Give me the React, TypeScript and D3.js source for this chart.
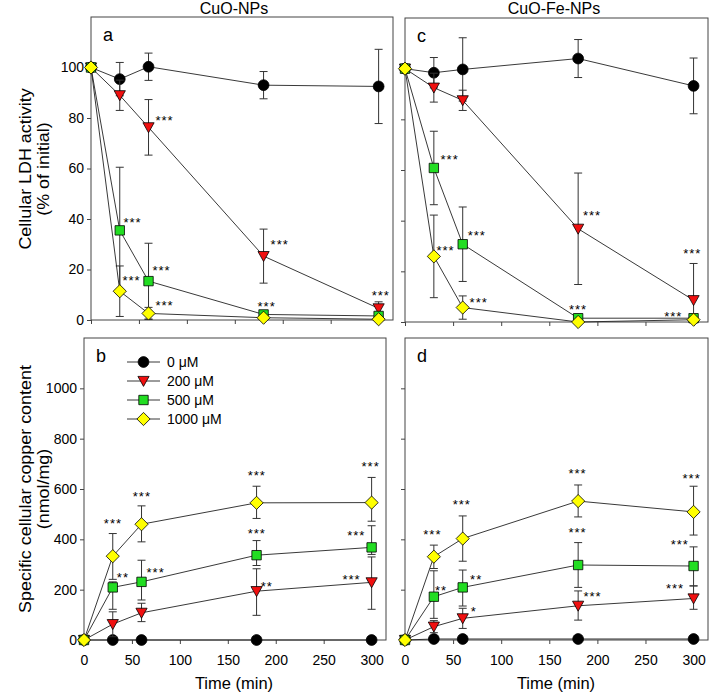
import React, { useEffect, useRef } from "react";
import * as d3 from "d3";

const FONT = "'Liberation Sans', Arial, sans-serif";

const times = [0, 30, 60, 180, 300];
const doseLabels = ["0 μM", "200 μM", "500 μM", "1000 μM"];
const timeTicks = [0, 50, 100, 150, 200, 250, 300];
const ldhTicks = [0, 20, 40, 60, 80, 100];
const copperTicks = [0, 200, 400, 600, 800, 1000];

// a: LDH activity, CuO-NPs (rows = 0, 200, 500, 1000 uM)
const ldhCuOMean = [
  [100, 95.4, 100.3, 93, 92.5],
  [100, 89, 76.3, 25.3, 4.6],
  [100, 35.5, 15.4, 2.2, 1.6],
  [100, 11.4, 2.6, 0.9, 0.3],
];
const ldhCuOSd = [
  [0, 6.6, 5.4, 5.4, 14.7],
  [0, 6, 11, 10.7, 2.6],
  [0, 25, 15, 0, 0],
  [0, 10, 2.4, 0, 0],
];
const ldhCuOStars = [
  { t: 76.7, v: 80.2, label: "***" },
  { t: 196.8, v: 31.2, label: "***" },
  { t: 43.3, v: 39.9, label: "***" },
  { t: 73.6, v: 20.9, label: "***" },
  { t: 42.3, v: 17, label: "***" },
  { t: 76.7, v: 7.1, label: "***" },
  { t: 183.2, v: 6.7, label: "***" },
  { t: 302.2, v: 10.7, label: "***" },
];

// c: LDH activity, CuO-Fe-NPs
const ldhFeMean = [
  [100, 98.4, 99.7, 104, 93.2],
  [100, 92.5, 87.5, 36.8, 8.6],
  [100, 60.8, 30.7, 1.5, 1.5],
  [100, 25.9, 5.7, 0, 0.9],
];
const ldhFeSd = [
  [0, 6, 12.5, 7.5, 11],
  [0, 5.7, 4, 22, 14.5],
  [0, 14.5, 14.7, 0, 0],
  [0, 16.3, 4.6, 0, 0],
];
const ldhFeStars = [
  { t: 46.4, v: 65.2, label: "***" },
  { t: 194.5, v: 43.1, label: "***" },
  { t: 298.7, v: 28.1, label: "***" },
  { t: 74.6, v: 35.2, label: "***" },
  { t: 42.2, v: 29.6, label: "***" },
  { t: 76.6, v: 8.7, label: "***" },
  { t: 179.9, v: 6.3, label: "***" },
  { t: 278.9, v: 3.2, label: "***" },
];

// b: cellular copper, CuO-NPs
const copperCuOMean = [
  [0, 0, 0, 0, 0],
  [0, 63, 108, 194, 229],
  [0, 209, 231, 337, 368],
  [0, 333, 460, 545, 546],
];
const copperCuOUp = [
  [0, 0, 0, 0, 0],
  [0, 49, 38, 89, 101],
  [0, 22, 86, 58, 86],
  [0, 90, 73, 66, 100],
];
const copperCuODown = [
  [0, 0, 0, 0, 0],
  [0, 50, 35, 96, 107],
  [0, 87, 72, 41, 28],
  [0, 92, 70, 62, 74],
];
const copperCuOStars = [
  { t: 30.2, v: 476, label: "***" },
  { t: 60.4, v: 583, label: "***" },
  { t: 180.2, v: 667, label: "***" },
  { t: 299, v: 700, label: "***" },
  { t: 180.2, v: 434, label: "***" },
  { t: 40.6, v: 262, label: "**" },
  { t: 74.7, v: 282, label: "***" },
  { t: 284, v: 428, label: "***" },
  { t: 190.6, v: 225, label: "**" },
  { t: 279, v: 253, label: "***" },
];

// d: cellular copper, CuO-Fe-NPs
const copperFeMean = [
  [0, 4, 4, 4, 4],
  [0, 53, 86, 136, 165],
  [0, 172, 209, 298, 294],
  [0, 331, 403, 552, 509],
];
const copperFeUp = [
  [0, 0, 0, 0, 0],
  [0, 24, 40, 59, 50],
  [0, 103, 69, 89, 76],
  [0, 46, 90, 64, 102],
];
const copperFeDown = [
  [0, 0, 0, 0, 0],
  [0, 24, 40, 57, 43],
  [0, 86, 74, 89, 79],
  [0, 47, 90, 63, 92],
];
const copperFeStars = [
  { t: 28.5, v: 433, label: "***" },
  { t: 59, v: 551, label: "***" },
  { t: 179.4, v: 675, label: "***" },
  { t: 298, v: 655, label: "***" },
  { t: 179.4, v: 440, label: "***" },
  { t: 285.7, v: 390, label: "***" },
  { t: 37.5, v: 209, label: "**" },
  { t: 74, v: 254, label: "**" },
  { t: 71.6, v: 127, label: "*" },
  { t: 195, v: 183, label: "***" },
  { t: 280.8, v: 215, label: "***" },
];

const fills = ["#000000", "#f01010", "#22dd22", "#ffff00"];
const shapes = [
  d3.symbol(d3.symbolCircle, Math.PI * 5.4 * 5.4)(),
  "M-5.6,-4.6L5.6,-4.6L0,5.4Z",
  "M-4.7,-4.7L4.7,-4.7L4.7,4.7L-4.7,4.7Z",
  "M0,-6.6L6.6,0L0,6.6L-6.6,0Z",
];

const panels = [
  { id: "a", left: 91, right: 393, top: 17, bottom: 320, yMax: 120, yTicks: ldhTicks, xLabels: false, yLabels: true,
    mean: ldhCuOMean, up: ldhCuOSd, down: ldhCuOSd, stars: ldhCuOStars },
  { id: "c", left: 405, right: 708, top: 18, bottom: 322, yMax: 120, yTicks: ldhTicks, xLabels: false, yLabels: false,
    mean: ldhFeMean, up: ldhFeSd, down: ldhFeSd, stars: ldhFeStars },
  { id: "b", left: 84, right: 386, top: 338, bottom: 640, yMax: 1200, yTicks: copperTicks, xLabels: true, yLabels: true,
    mean: copperCuOMean, up: copperCuOUp, down: copperCuODown, stars: copperCuOStars },
  { id: "d", left: 405, right: 708, top: 338, bottom: 640, yMax: 1200, yTicks: copperTicks, xLabels: true, yLabels: false,
    mean: copperFeMean, up: copperFeUp, down: copperFeDown, stars: copperFeStars },
];

function drawPanel(svg, p) {
  const x = d3.scaleLinear().domain([0, 315]).range([p.left, p.right]);
  const y = d3.scaleLinear().domain([0, p.yMax]).range([p.bottom, p.top]);
  const g = svg.append("g");

  g.append("rect")
    .attr("x", p.left).attr("y", p.top)
    .attr("width", p.right - p.left).attr("height", p.bottom - p.top)
    .attr("fill", "none").attr("stroke", "#444").attr("stroke-width", 1);

  const ya = g.append("g").attr("transform", `translate(${p.left},0)`)
    .call(d3.axisLeft(y).tickValues(p.yTicks).tickSize(4).tickSizeOuter(0).tickPadding(3)
      .tickFormat(p.yLabels ? d3.format("d") : () => ""));
  ya.select(".domain").remove();
  ya.attr("font-size", 14).attr("font-family", FONT);
  ya.selectAll("line").attr("stroke", "#444");

  const xa = g.append("g").attr("transform", `translate(0,${p.bottom})`)
    .call(d3.axisBottom(x).tickValues(timeTicks).tickSize(4).tickSizeOuter(0).tickPadding(11)
      .tickFormat(p.xLabels ? d3.format("d") : () => ""));
  xa.select(".domain").remove();
  xa.attr("font-size", 14).attr("font-family", FONT);
  xa.selectAll("line").attr("stroke", "#444");

  p.mean.forEach((vals, s) => {
    const pts = times.map((t, i) => ({ t, v: vals[i], up: p.up[s][i], down: p.down[s][i] }));
    const withErr = pts.filter(d => d.up > 0 || d.down > 0);
    const hi = d => y(d.v + d.up);
    const lo = d => y(Math.max(0, d.v - d.down));
    const eb = g.append("g").attr("stroke", "#333").attr("stroke-width", 1);
    eb.selectAll(null).data(withErr).join("line")
      .attr("x1", d => x(d.t)).attr("x2", d => x(d.t))
      .attr("y1", hi).attr("y2", lo);
    eb.selectAll(null).data(withErr).join("line")
      .attr("x1", d => x(d.t) - 4).attr("x2", d => x(d.t) + 4)
      .attr("y1", hi).attr("y2", hi);
    eb.selectAll(null).data(withErr.filter(d => d.v - d.down > 0)).join("line")
      .attr("x1", d => x(d.t) - 4).attr("x2", d => x(d.t) + 4)
      .attr("y1", lo).attr("y2", lo);

    const line = d3.line().x(d => x(d.t)).y(d => y(d.v));
    g.append("path").attr("d", line(pts))
      .attr("fill", "none").attr("stroke", "#222").attr("stroke-width", 0.9);

    g.selectAll(null).data(pts).join("path")
      .attr("transform", d => `translate(${x(d.t)},${y(d.v)})`)
      .attr("d", shapes[s])
      .attr("fill", fills[s]).attr("stroke", "#000").attr("stroke-width", 0.8);
  });

  g.selectAll(null).data(p.stars).join("text")
    .attr("x", d => x(d.t)).attr("y", d => y(d.v) + 7.5)
    .attr("text-anchor", "middle")
    .attr("font-family", FONT).attr("font-size", 13).attr("letter-spacing", 1)
    .attr("fill", "#000")
    .text(d => d.label);

  g.append("text").attr("x", p.left + 12).attr("y", p.top + 24)
    .attr("font-family", FONT).attr("font-size", 18).text(p.id);
}

export default function App() {
  const ref = useRef(null);

  useEffect(() => {
    const svg = d3.select(ref.current);
    svg.selectAll("*").remove();
    panels.forEach(p => drawPanel(svg, p));

    // titles
    svg.append("text").attr("x", 234).attr("y", 14).attr("text-anchor", "middle")
      .attr("font-family", FONT).attr("font-size", 16).text("CuO-NPs");
    svg.append("text").attr("x", 554).attr("y", 14).attr("text-anchor", "middle")
      .attr("font-family", FONT).attr("font-size", 16).text("CuO-Fe-NPs");

    // x axis titles
    [234, 556].forEach(cx => {
      svg.append("text").attr("x", cx).attr("y", 689).attr("text-anchor", "middle")
        .attr("font-family", FONT).attr("font-size", 16.5).text("Time (min)");
    });

    // y axis titles (slightly stretched along the text, like the original)
    const yTitle = (cy, lines) => {
      lines.forEach((txt, i) => {
        svg.append("text")
          .attr("transform", `translate(${31 + i * 18},${cy}) rotate(-90) scale(1.12,1)`)
          .attr("text-anchor", "middle")
          .attr("font-family", FONT).attr("font-size", 16).text(txt);
      });
    };
    yTitle(169, ["Cellular LDH activity", "(% of initial)"]);
    yTitle(489, ["Specific cellular copper content", "(nmol/mg)"]);

    // legend in panel b
    const lg = svg.append("g");
    doseLabels.forEach((lab, s) => {
      const ly = 362 + s * 19;
      lg.append("line").attr("x1", 127).attr("x2", 160).attr("y1", ly).attr("y2", ly)
        .attr("stroke", "#222").attr("stroke-width", 0.9);
      lg.append("path").attr("transform", `translate(143.5,${ly})`).attr("d", shapes[s])
        .attr("fill", fills[s]).attr("stroke", "#000").attr("stroke-width", 0.8);
      lg.append("text").attr("x", 167).attr("y", ly + 5)
        .attr("font-family", FONT).attr("font-size", 14).text(lab);
    });
  }, []);

  return (
    <svg ref={ref} width={710} height={695}
      style={{ position: "absolute", left: 0, top: 0, background: "#fff" }} />
  );
}
